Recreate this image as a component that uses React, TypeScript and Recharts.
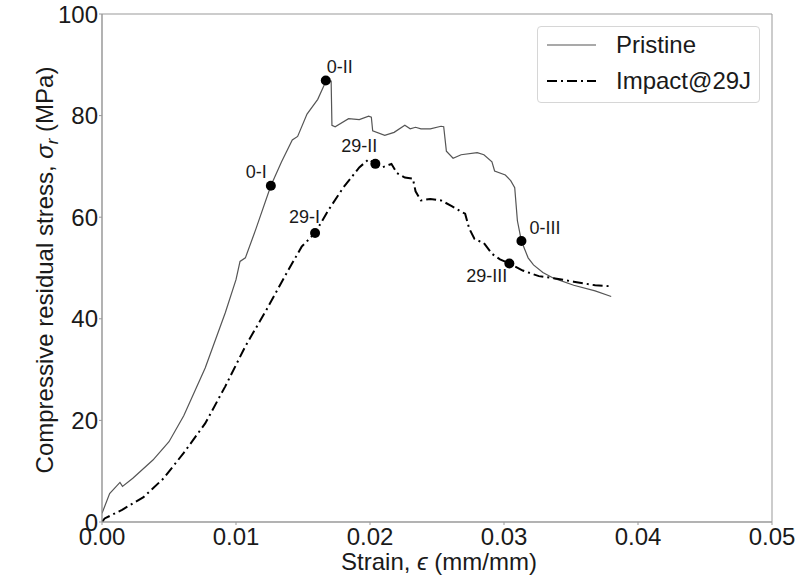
import React from "react";
import { ComposedChart, Line, Scatter, XAxis, YAxis, ReferenceArea, Legend } from "recharts";

const FONT = "'Liberation Sans', Arial, sans-serif";

const PRISTINE_STRAIN = [
  0, 0.00057, 0.00134, 0.00153, 0.0023, 0.0038, 0.005, 0.0061, 0.0077, 0.0092, 0.01, 0.0103, 0.0107, 0.0115,
  0.0126, 0.0134, 0.0142, 0.0146, 0.0153, 0.0161, 0.0167, 0.0171, 0.01716, 0.0174, 0.0184, 0.0192, 0.0199,
  0.0201, 0.0202, 0.0211, 0.0218, 0.0226, 0.023, 0.0234, 0.0238, 0.0245, 0.0253, 0.0255, 0.0257, 0.0262,
  0.0268, 0.028, 0.0285, 0.0291, 0.0293, 0.0301, 0.0305, 0.0308, 0.031, 0.0313, 0.0318, 0.0322, 0.0329,
  0.0337, 0.0352, 0.0368, 0.038
];
const PRISTINE_STRESS = [
  1.7, 5.6, 7.8, 7.0, 8.6, 12.2, 15.8, 20.9, 30.3, 41.2, 47.7, 51.3, 52.0, 57.8,
  66.2, 70.9, 75.2, 75.9, 80.3, 83.2, 86.7, 86.8, 78.1, 77.8, 79.4, 79.2, 79.9,
  79.7, 77.0, 76.1, 76.7, 78.1, 77.4, 77.7, 77.4, 77.4, 77.9, 77.8, 73.0, 71.6,
  72.3, 72.7, 72.3, 70.9, 69.1, 68.3, 67.2, 65.8, 59.3, 55.3, 52.0, 50.6, 49.1,
  48.0, 46.6, 45.5, 44.4
];

const IMPACT_STRAIN = [
  0, 0.0002, 0.0015, 0.0031, 0.0046, 0.0061, 0.0077, 0.0092, 0.0107, 0.0123, 0.0138, 0.0149, 0.0159, 0.0169,
  0.018, 0.0192, 0.0199, 0.0204, 0.0209, 0.0216, 0.022, 0.0226, 0.0232, 0.0234, 0.0238, 0.0245, 0.0253,
  0.0261, 0.0268, 0.0271, 0.0274, 0.0278, 0.0285, 0.0291, 0.0297, 0.0304, 0.0314, 0.0326, 0.0337, 0.0352,
  0.0368, 0.038
];
const IMPACT_STRESS = [
  0, 0.7, 2.4, 4.9, 8.6, 13.6, 19.4, 26.7, 34.6, 41.9, 49.1, 54.2, 56.9, 61.4,
  65.8, 69.8, 71.4, 70.5, 69.8, 70.5, 68.7, 67.8, 67.6, 65.1, 63.3, 63.6, 63.3,
  62.2, 61.1, 60.7, 57.8, 55.7, 54.9, 52.8, 51.7, 50.9, 49.5, 48.4, 48.0, 47.3,
  46.6, 46.4
];

const MARK_NAMES = ["0-I", "0-II", "0-III", "29-I", "29-II", "29-III"];
const MARK_STRAIN = [0.0126, 0.0167, 0.0313, 0.0159, 0.0204, 0.0304];
const MARK_STRESS = [66.2, 86.9, 55.3, 56.9, 70.5, 50.9];

const X_TICKS = [0, 0.01, 0.02, 0.03, 0.04, 0.05];
const Y_TICKS = [0, 20, 40, 60, 80, 100];

// where each annotation sits relative to its dot (anchor, dx, dy of baseline)
const LABEL_PLACE: Record<string, { anchor: "start" | "end"; dx: number; dy: number }> = {
  "0-I": { anchor: "end", dx: -4, dy: -8 },
  "0-II": { anchor: "start", dx: 1, dy: -8 },
  "0-III": { anchor: "start", dx: 8, dy: -7 },
  "29-I": { anchor: "end", dx: 5, dy: -10 },
  "29-II": { anchor: "end", dx: 2, dy: -12 },
  "29-III": { anchor: "end", dx: -2, dy: 19 }
};

const zip = (xs: number[], ys: number[]) => xs.map((x, i) => ({ strain: x, stress: ys[i] }));
const pristineData = zip(PRISTINE_STRAIN, PRISTINE_STRESS);
const impactData = zip(IMPACT_STRAIN, IMPACT_STRESS);
const markData = MARK_NAMES.map((name, i) => ({ name, strain: MARK_STRAIN[i], stress: MARK_STRESS[i] }));

function MarkShape(props: any) {
  const { cx, cy, payload } = props;
  const place = LABEL_PLACE[payload.name];
  return (
    <g>
      <circle cx={cx} cy={cy} r={5} fill="#000" />
      <text
        x={cx + place.dx}
        y={cy + place.dy}
        textAnchor={place.anchor}
        fontSize={18}
        fontFamily={FONT}
        fill="#1a1a1a"
      >
        {payload.name}
      </text>
    </g>
  );
}

function YLabel(props: any) {
  const vb = props.viewBox || { x: 0, y: 14, width: 102, height: 508 };
  const x = vb.x + 53;
  const y = vb.y + vb.height / 2 + 2;
  return (
    <text
      x={x}
      y={y}
      transform={`rotate(-90, ${x}, ${y})`}
      textAnchor="middle"
      fontSize={24}
      fontFamily={FONT}
      fill="#1a1a1a"
    >
      Compressive residual stress, <tspan fontStyle="italic">σ</tspan>
      <tspan fontStyle="italic" fontSize={17} dy={5}>r</tspan>
      <tspan dy={-5}> (MPa)</tspan>
    </text>
  );
}

function XLabel(props: any) {
  const vb = props.viewBox || { x: 102, y: 522, width: 670, height: 54 };
  return (
    <text x={vb.x + vb.width / 2 + 2} y={570} textAnchor="middle" fontSize={24} fontFamily={FONT} fill="#1a1a1a">
      Strain, <tspan fontStyle="italic">ϵ</tspan> (mm/mm)
    </text>
  );
}

function LegendBox() {
  const rows = [
    { name: "Pristine", stroke: "#555", width: 1.2, dash: undefined as string | undefined },
    { name: "Impact@29J", stroke: "#000", width: 2, dash: "10 4 2 4" }
  ];
  return (
    <div
      style={{
        width: 221,
        height: 75,
        border: "1px solid #d6d6d6",
        borderRadius: 4,
        background: "#fff",
        fontFamily: FONT,
        fontSize: 24,
        color: "#1a1a1a",
        position: "relative"
      }}
    >
      {rows.map((r, i) => (
        <div key={r.name} style={{ position: "absolute", left: 0, top: 4 + i * 36, height: 28, width: 221 }}>
          <svg width={60} height={28} style={{ position: "absolute", left: 8, top: 0 }}>
            <line x1={1} y1={14} x2={50} y2={14} stroke={r.stroke} strokeWidth={r.width} strokeDasharray={r.dash} />
          </svg>
          <span style={{ position: "absolute", left: 78, top: 0, lineHeight: "28px" }}>{r.name}</span>
        </div>
      ))}
    </div>
  );
}

export default function App() {
  return (
    <div style={{ position: "absolute", left: 0, top: 0, width: 804, height: 576, background: "#fff" }}>
      <ComposedChart width={804} height={576} margin={{ top: 14, right: 32, bottom: 0, left: 0 }}>
        <XAxis
          type="number"
          dataKey="strain"
          domain={[0, 0.05]}
          ticks={X_TICKS}
          tickFormatter={(v: number) => v.toFixed(2)}
          height={54}
          tickSize={3}
          tickMargin={3}
          axisLine={{ stroke: "#999" }}
          tickLine={{ stroke: "#999" }}
          tick={{ fontSize: 24, fontFamily: FONT, fill: "#1a1a1a" }}
          allowDataOverflow
          label={{ content: (p: any) => <XLabel {...p} /> }}
        />
        <YAxis
          type="number"
          dataKey="stress"
          domain={[0, 100]}
          ticks={Y_TICKS}
          width={102}
          tickSize={3}
          tickMargin={1}
          axisLine={{ stroke: "#999" }}
          tickLine={{ stroke: "#999" }}
          tick={{ fontSize: 24, fontFamily: FONT, fill: "#1a1a1a" }}
          allowDataOverflow
          label={{ content: (p: any) => <YLabel {...p} /> }}
        />
        <ReferenceArea x1={0} x2={0.05} y1={0} y2={100} fill="none" stroke="#999" strokeWidth={1} ifOverflow="visible" />
        <Line
          data={pristineData}
          dataKey="stress"
          type="linear"
          stroke="#555"
          strokeWidth={1.2}
          dot={false}
          activeDot={false}
          isAnimationActive={false}
          name="Pristine"
        />
        <Line
          data={impactData}
          dataKey="stress"
          type="linear"
          stroke="#000"
          strokeWidth={2}
          strokeDasharray="10 4 2 4"
          dot={false}
          activeDot={false}
          isAnimationActive={false}
          name="Impact@29J"
        />
        <Scatter data={markData} dataKey="stress" shape={(p: any) => <MarkShape {...p} />} isAnimationActive={false} />
        <Legend
          layout="vertical"
          align="center"
          verticalAlign="middle"
          wrapperStyle={{ left: 537, top: 26, width: 223 }}
          content={() => <LegendBox />}
        />
      </ComposedChart>
    </div>
  );
}
